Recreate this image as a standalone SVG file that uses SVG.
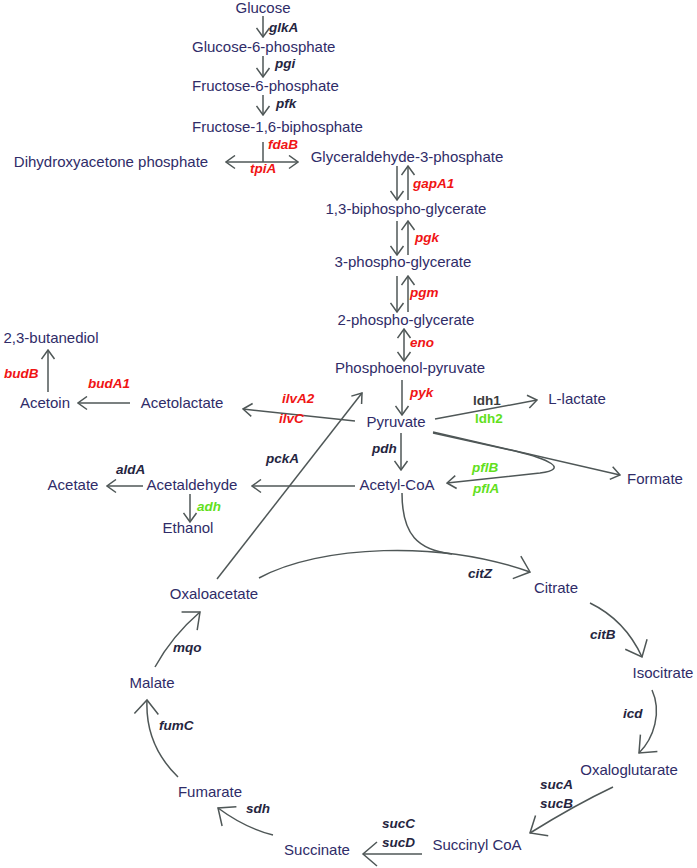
<svg xmlns="http://www.w3.org/2000/svg" width="697" height="868" viewBox="0 0 697 868">
<style>
  .n { font-family: "Liberation Sans", Arial, sans-serif; font-size: 15px; fill: #2f2c68; }
  .m { text-anchor: middle; }
  .e { font-family: "Liberation Sans", Arial, sans-serif; font-size: 13.5px; font-weight: bold; font-style: italic; fill: #252540; }
  .u { font-style: normal; }
  .r { fill: #f01414; }
  .g { fill: #62e01c; }
  .k { fill: #3c3c3c; }
  .c path, .c line { fill: none; stroke: #4f5757; stroke-width: 1.5; }
  .a { marker-end: url(#ah); }
  .aa { marker-end: url(#ah); marker-start: url(#ah); }
  .b { marker-end: url(#bh); }
</style>
<defs>
  <marker id="ah" viewBox="0 0 11 15" refX="10" refY="7.5" markerWidth="11" markerHeight="15" markerUnits="userSpaceOnUse" orient="auto-start-reverse">
    <path d="M1,1 L10,7.5 L1,14" fill="none" stroke="#4f5757" stroke-width="1.5"/>
  </marker>
  <marker id="bh" viewBox="0 0 18 28" refX="16" refY="14" markerWidth="18" markerHeight="28" markerUnits="userSpaceOnUse" orient="auto">
    <path d="M2,2 L16,14 L2,26" fill="none" stroke="#4f5757" stroke-width="1.5"/>
  </marker>
</defs>

<g id="connectors" class="c">
  <line class="a" x1="263" y1="16" x2="263" y2="37"/>
  <line class="a" x1="263" y1="56" x2="263" y2="77"/>
  <line class="a" x1="263" y1="95" x2="263" y2="115"/>
  <line x1="263" y1="142" x2="263" y2="162"/>
  <line class="aa" x1="226" y1="162" x2="298" y2="162"/>
  <line class="a" x1="397" y1="166" x2="397" y2="200"/>
  <line class="a" x1="408" y1="200" x2="408" y2="166"/>
  <line class="a" x1="397" y1="221" x2="397" y2="255"/>
  <line class="a" x1="408" y1="255" x2="408" y2="221"/>
  <line class="a" x1="397" y1="276" x2="397" y2="312"/>
  <line class="a" x1="408" y1="312" x2="408" y2="276"/>
  <line class="aa" x1="404" y1="329" x2="404" y2="361"/>
  <line class="a" x1="402" y1="380" x2="402" y2="415"/>
  <line class="a" x1="401" y1="433" x2="401" y2="470"/>
  <line class="a" x1="435" y1="419" x2="537" y2="400"/>
  <line class="a" x1="355" y1="421" x2="243" y2="409"/>
  <line class="a" x1="130" y1="403" x2="78" y2="403"/>
  <line class="a" x1="48" y1="392" x2="48" y2="350"/>
  <line class="a" x1="355" y1="486" x2="252" y2="486"/>
  <line class="a" x1="143" y1="486" x2="107" y2="486"/>
  <line class="a" x1="190" y1="494" x2="190" y2="522"/>
  <line class="a" x1="217" y1="579" x2="362" y2="393"/>
  <line class="a" x1="433" y1="432" x2="620" y2="475"/>
  <path class="a" d="M433,433 L515,451 C548,459 570,469 540,473 L447,483"/>
  <path d="M402,493 C402,535 418,550 452,554"/>
  <path class="b" d="M259,578 C320,545 440,540 530,572"/>
  <path class="b" d="M590,603 Q625,620 642,657"/>
  <path class="b" d="M652,690 C662,712 654,738 639,753"/>
  <path class="b" d="M613,787 Q575,805 530,833"/>
  <path class="b" d="M422,854 L363,854"/>
  <path class="b" d="M273,835 Q245,828 218,808"/>
  <path class="b" d="M178,777 Q145,745 147,700"/>
  <path class="b" d="M155,667 Q172,636 200,612"/>
</g>

<g id="edge-labels">
  <text class="e" x="269" y="32">glkA</text>
  <text class="e" x="275" y="68">pgi</text>
  <text class="e" x="276" y="108">pfk</text>
  <text class="e r" x="268" y="149">fdaB</text>
  <text class="e r" x="250" y="173">tpiA</text>
  <text class="e r" x="413" y="188">gapA1</text>
  <text class="e r" x="415" y="242">pgk</text>
  <text class="e r" x="410" y="297">pgm</text>
  <text class="e r" x="410" y="347">eno</text>
  <text class="e r" x="410" y="397">pyk</text>
  <text class="e u k" x="473" y="405">ldh1</text>
  <text class="e u g" x="475" y="423">ldh2</text>
  <text class="e r" x="282" y="403">ilvA2</text>
  <text class="e r" x="279" y="423">ilvC</text>
  <text class="e r" x="88" y="388">budA1</text>
  <text class="e r" x="4" y="378">budB</text>
  <text class="e" x="372" y="453">pdh</text>
  <text class="e g" x="472" y="472">pflB</text>
  <text class="e g" x="473" y="493">pflA</text>
  <text class="e" x="266" y="463">pckA</text>
  <text class="e" x="116" y="474">aldA</text>
  <text class="e g" x="197" y="511">adh</text>
  <text class="e" x="468" y="578">citZ</text>
  <text class="e" x="590" y="639">citB</text>
  <text class="e" x="623" y="718">icd</text>
  <text class="e" x="540" y="789">sucA</text>
  <text class="e" x="540" y="808">sucB</text>
  <text class="e" x="382" y="828">sucC</text>
  <text class="e" x="382" y="847">sucD</text>
  <text class="e" x="246" y="813">sdh</text>
  <text class="e" x="159" y="730">fumC</text>
  <text class="e" x="173" y="652">mqo</text>
</g>

<g id="glucose"><text class="n m" x="263" y="13">Glucose</text></g>
<g id="g6p"><text class="n" x="192" y="52">Glucose-6-phosphate</text></g>
<g id="f6p"><text class="n" x="192" y="91">Fructose-6-phosphate</text></g>
<g id="fbp"><text class="n" x="192" y="132">Fructose-1,6-biphosphate</text></g>
<g id="dhap"><text class="n m" x="111" y="167">Dihydroxyacetone phosphate</text></g>
<g id="gap"><text class="n m" x="407" y="162">Glyceraldehyde-3-phosphate</text></g>
<g id="bpg"><text class="n m" x="406" y="214">1,3-biphospho-glycerate</text></g>
<g id="pg3"><text class="n m" x="403" y="267">3-phospho-glycerate</text></g>
<g id="pg2"><text class="n m" x="406" y="325">2-phospho-glycerate</text></g>
<g id="pep"><text class="n m" x="410" y="373">Phosphoenol-pyruvate</text></g>
<g id="pyruvate"><text class="n m" x="396" y="427">Pyruvate</text></g>
<g id="lactate"><text class="n m" x="577" y="404">L-lactate</text></g>
<g id="formate"><text class="n m" x="655" y="484">Formate</text></g>
<g id="acetylcoa"><text class="n m" x="397" y="490">Acetyl-CoA</text></g>
<g id="acetaldehyde"><text class="n m" x="192" y="490">Acetaldehyde</text></g>
<g id="acetate"><text class="n m" x="73" y="490">Acetate</text></g>
<g id="ethanol"><text class="n m" x="188" y="533">Ethanol</text></g>
<g id="acetolactate"><text class="n m" x="182" y="408">Acetolactate</text></g>
<g id="acetoin"><text class="n m" x="45" y="408">Acetoin</text></g>
<g id="butanediol"><text class="n m" x="51" y="343">2,3-butanediol</text></g>
<g id="oxaloacetate"><text class="n m" x="214" y="599">Oxaloacetate</text></g>
<g id="citrate"><text class="n m" x="556" y="593">Citrate</text></g>
<g id="isocitrate"><text class="n m" x="663" y="678">Isocitrate</text></g>
<g id="oxaloglutarate"><text class="n m" x="629" y="775">Oxaloglutarate</text></g>
<g id="succinylcoa"><text class="n m" x="477" y="850">Succinyl CoA</text></g>
<g id="succinate"><text class="n m" x="317" y="855">Succinate</text></g>
<g id="fumarate"><text class="n m" x="210" y="797">Fumarate</text></g>
<g id="malate"><text class="n m" x="152" y="688">Malate</text></g>
</svg>
